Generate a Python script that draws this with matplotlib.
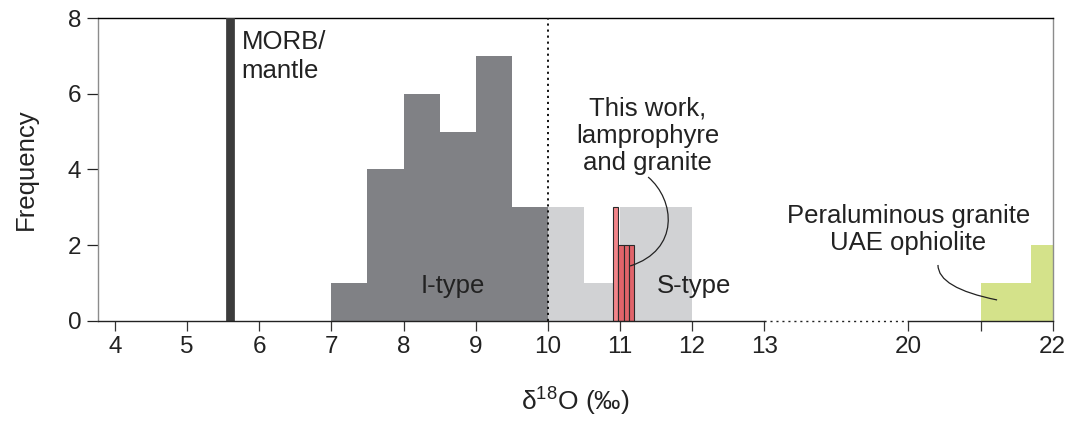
import numpy as np
import matplotlib
matplotlib.use('Agg')
import matplotlib.pyplot as plt
from matplotlib.path import Path
from matplotlib.patches import PathPatch

plt.rcParams['font.family'] = ['Liberation Sans', 'DejaVu Sans']
plt.rcParams['mathtext.fontset'] = 'custom'
plt.rcParams['mathtext.rm'] = 'Liberation Sans'

# d18O histograms (bin edges in permil, counts)
itype_edges = [7.0, 7.5, 8.0, 8.5, 9.0, 9.5, 10.0]
itype_counts = [1, 4, 6, 5, 7, 3]
stype_edges = [10.0, 10.5, 11.0, 11.5, 12.0]
stype_counts = [3, 1, 3, 3]
work_edges = [10.9, 10.975, 11.05, 11.125, 11.2]
work_counts = [3, 2, 2, 2]
uae_edges = [21.0, 21.7, 22.0]
uae_counts = [1, 2]
morb_value = 5.6
i_s_boundary = 10.0

xtick_values = [4, 5, 6, 7, 8, 9, 10, 11, 12, 13, 20, 21, 22]
xtick_labels = ['4', '5', '6', '7', '8', '9', '10', '11', '12', '13', '20', '', '22']
ytick_values = [0, 2, 4, 6, 8]


# broken x axis: the gap 13..20 is squeezed to 2 units
def bx(v):
    v = np.asarray(v, dtype=float)
    return np.where(v > 13, v - 5, v)


fig = plt.figure(figsize=(10.74, 4.29), dpi=100)
ax = fig.add_axes([0.0915, 0.2525, 0.8886, 0.7049])


def draw_hist(edges, counts, **kw):
    e = bx(edges)
    return ax.bar(e[:-1], counts, width=np.diff(e), align='edge', **kw)


draw_hist(stype_edges, stype_counts, color='#d1d2d4', lw=0, zorder=1)
draw_hist(itype_edges, itype_counts, color='#808185', lw=0, zorder=2)
draw_hist(work_edges, work_counts,
          color=['#f2858a'] + ['#e0646a'] * (len(work_counts) - 1),
          edgecolor='#2a2a2a', lw=0.8, zorder=5)
draw_hist(uae_edges, uae_counts, color='#d4e28a', lw=0, zorder=2)

ax.axvline(bx(morb_value), color='#3c3c3c', lw=6.3, zorder=3)
ax.axvline(bx(i_s_boundary), color='#111111', lw=1.4, ls=(0, (1.1, 2.0)), zorder=4)

xmin, xmax = 3.767, float(bx(22))
ax.set_xlim(xmin, xmax)
ax.set_ylim(0, 8)

# axis frame, bottom line broken with dots between 13 and 20
ax.spines['bottom'].set_visible(False)
ax.spines['top'].set_linewidth(1.0)
for s in ['left', 'right']:
    ax.spines[s].set_color('#8c8c8c')
    ax.spines[s].set_linewidth(1.0)
kw = dict(color='#222222', lw=1.0, clip_on=False, zorder=6)
ax.plot([xmin, 13], [0, 0], **kw)
ax.plot([13, float(bx(20))], [0, 0], ls=(0, (1.5, 2.8)), **kw)
ax.plot([float(bx(20)), xmax], [0, 0], **kw)

ax.set_xticks(bx(xtick_values))
ax.set_xticklabels(xtick_labels)
ax.set_yticks(ytick_values)
ax.tick_params(axis='x', length=7.2, width=0.9, pad=3.5, labelsize=17.5,
               color='#333333', labelcolor='#222222')
ax.tick_params(axis='y', length=8, width=0.9, pad=4.3, labelsize=17.5,
               color='#222222', labelcolor='#222222')

ax.set_xlabel(r'δ$^{\mathrm{18}}$O (‰)', fontsize=19, color='#222222')
ax.xaxis.set_label_coords(0.5, -0.21)
ax.set_ylabel('Frequency', fontsize=18.5, color='#222222')
ax.yaxis.set_label_coords(-0.063, 0.5)

# text anchors use the baseline of the last line
tkw = dict(fontsize=18.5, color='#222222')
ax.text(5.756, 6.42, 'MORB/\nmantle', ha='left', va='baseline', linespacing=1.24, **tkw)
ax.text(8.687, 0.73, 'I-type', ha='center', va='baseline', **tkw)
ax.text(12.03, 0.73, 'S-type', ha='center', va='baseline', **tkw)
ax.text(11.384, 3.99, 'This work,\nlamprophyre\nand granite', ha='center',
        va='baseline', linespacing=1.16, **tkw)
ax.text(float(bx(20)), 1.87, 'Peraluminous granite\nUAE ophiolite', ha='center',
        va='baseline', linespacing=1.16, **tkw)

# leader lines
lead1 = Path([(11.391, 3.80), (11.766, 3.193), (11.836, 1.870), (11.141, 1.447)],
             [Path.MOVETO, Path.CURVE4, Path.CURVE4, Path.CURVE4])
lead2 = Path([(15.41, 1.474), (15.41, 0.865), (16.23, 0.548)],
             [Path.MOVETO, Path.CURVE3, Path.CURVE3])
for p in (lead1, lead2):
    ax.add_patch(PathPatch(p, fc='none', ec='#222222', lw=0.9, zorder=7))

fig.savefig('out.png', dpi=100)
